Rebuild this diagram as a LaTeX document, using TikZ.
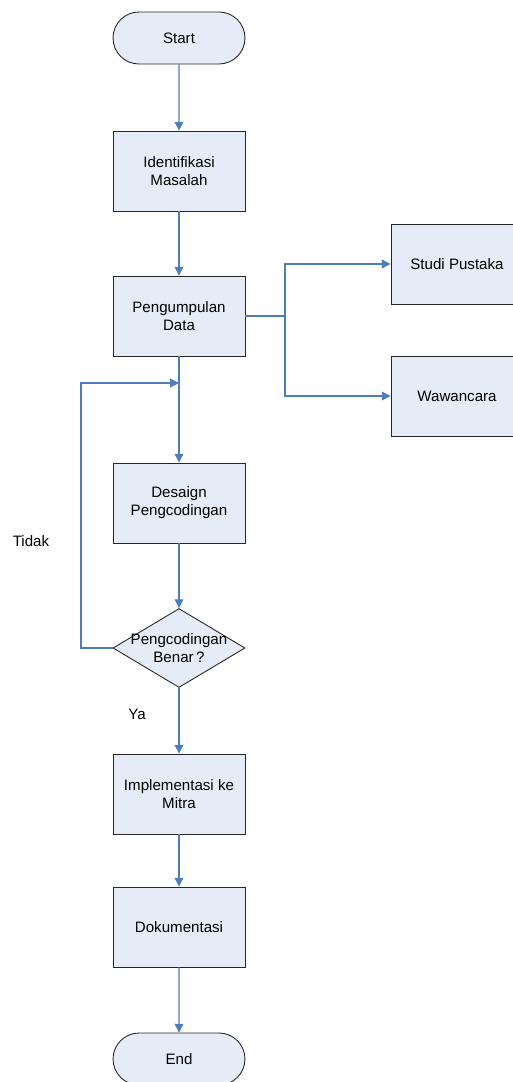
\documentclass[tikz,border=0pt]{standalone}
\usepackage{fontspec}
\setmainfont{Liberation Sans}
\usetikzlibrary{arrows.meta,shapes.misc,shapes.geometric}
\definecolor{boxfill}{RGB}{230,236,247}
\definecolor{linkblue}{RGB}{76,126,190}

\begin{document}
\begin{tikzpicture}[
            x=0.02cm, y=-0.02cm,
            font=\fontsize{8.6}{10.2}\selectfont,
        process/.style={rectangle,draw=black!85,fill=boxfill,line width=0.5pt,
                        minimum width=2.64cm,minimum height=1.6cm,inner sep=0pt,
                        align=center},
        terminal/.style={rounded rectangle,draw=black!85,fill=boxfill,line width=0.5pt,
                        minimum width=2.64cm,minimum height=1.04cm,inner sep=0pt},
        decision/.style={diamond,draw=black!85,fill=boxfill,line width=0.5pt,
                        minimum width=2.64cm,minimum height=1.58cm,inner sep=0pt},
        link/.style={draw=linkblue,line width=0.6pt},
        arr/.style={link,-{Triangle[length=5pt,width=5pt]}}
                                ]
          \useasboundingbox (0,0) rectangle (513,1082);

          \node[terminal] (start) at (179,38) {Start};
          \node[process] (ident) at (179,171) {Identifikasi\\Masalah};
          \node[process] (collect) at (179,316) {Pengumpulan\\Data};
          \node[process] (studi) at (457,264) {Studi Pustaka};
          \node[process] (wawan) at (457,396) {Wawancara};
          \node[process] (design) at (179,503) {Desaign\\Pengcodingan};
          \node[decision, label={[align=center]center:Pengcodingan\\Benar\,?}] (check) at (179,648) {};
          \node[process] (impl) at (179,794) {Implementasi ke\\Mitra};
          \node[process] (docs) at (179,927) {Dokumentasi};
          \node[terminal] (stop) at (179,1059) {End};

          \coordinate (split) at (285,316);
          \coordinate (bend) at (81,383);
          \coordinate (join) at (179,383);

          \node (no) at (31,541) {Tidak};
          \node (yes) at (137,714) {Ya};

          \draw[arr] (start) -- (ident);
          \draw[arr] (ident) -- (collect);
          \draw[link] (collect) -- (split);
          \draw[arr] (split) |- (studi);
          \draw[arr] (split) |- (wawan);
          \draw[arr] (collect) -- (design);
          \draw[arr] (check.west) -| (bend) -- (join);
          \draw[arr] (design) -- (check);
          \draw[arr] (check) -- (impl);
          \draw[arr] (impl) -- (docs);
          \draw[arr] (docs) -- (stop);
    \end{tikzpicture}
\end{document}
